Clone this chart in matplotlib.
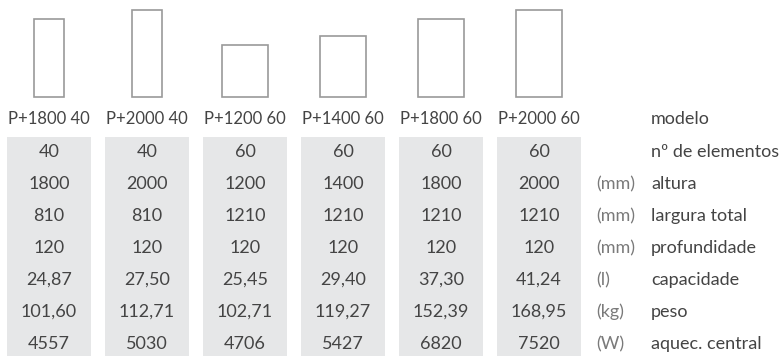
import matplotlib
matplotlib.use("Agg")
import matplotlib.pyplot as plt
from matplotlib.patches import Rectangle

# data
models = ['P+1800 40', 'P+2000 40', 'P+1200 60', 'P+1400 60', 'P+1800 60', 'P+2000 60']
elementos = [40, 40, 60, 60, 60, 60]
altura = [1800, 2000, 1200, 1400, 1800, 2000]
largura = [810, 810, 1210, 1210, 1210, 1210]
profundidade = [120, 120, 120, 120, 120, 120]
capacidade = [24.87, 27.50, 25.45, 29.40, 37.30, 41.24]
peso = [101.60, 112.71, 102.71, 119.27, 152.39, 168.95]
aquec = [4557, 5030, 4706, 5427, 6820, 7520]

row_labels = ['modelo', 'nº de elementos', 'altura', 'largura total',
              'profundidade', 'capacidade', 'peso', 'aquec. central']
units = ['', '', '(mm)', '(mm)', '(mm)', '(l)', '(kg)', '(W)']


def fmt_dec(v):
    return f"{v:.2f}".replace('.', ',')


rows = [
    [str(v) for v in elementos],
    [str(v) for v in altura],
    [str(v) for v in largura],
    [str(v) for v in profundidade],
    [fmt_dec(v) for v in capacidade],
    [fmt_dec(v) for v in peso],
    [str(v) for v in aquec],
]

plt.rcParams['font.family'] = ['Lato', 'DejaVu Sans']
fs = 13
txt_col = '#444444'
band_col = '#e6e7e8'
edge_col = '#9a9a9a'

W, H = 780, 357
fig = plt.figure(figsize=(7.8, 3.57), dpi=100)
ax = fig.add_axes([0, 0, 1, 1])
ax.set_xlim(0, W)
ax.set_ylim(H, 0)
ax.axis('off')

x0, pitch, band_w = 49, 98, 84
band_top = 137
row0, row_h = 152, 32
base_y = 97
sy, sx = 0.0435, 0.0381

for i, m in enumerate(models):
    cx = x0 + pitch * i
    # grey column band
    ax.add_patch(Rectangle((cx - band_w / 2, band_top), band_w, 356 - band_top,
                           facecolor=band_col, edgecolor='none'))
    # radiator outline scaled by width / height
    w = largura[i] * sx
    h = altura[i] * sy
    ax.add_patch(Rectangle((cx - w / 2, base_y - h), w, h, facecolor='white',
                           edgecolor=edge_col, linewidth=1.2))
    ax.text(cx, 119, m, ha='center', va='center', fontsize=12, color=txt_col)
    for j, r in enumerate(rows):
        ax.text(cx, row0 + row_h * j, r[i], ha='center', va='center',
                fontsize=fs, color=txt_col)

ys = [119] + [row0 + row_h * j for j in range(len(rows))]
for lab, u, y in zip(row_labels, units, ys):
    ax.text(651, y, lab, ha='left', va='center', fontsize=fs, color=txt_col)
    if u:
        ax.text(596, y, u, ha='left', va='center', fontsize=fs, color='#7a7a7a')

fig.savefig('out.png', dpi=100)
